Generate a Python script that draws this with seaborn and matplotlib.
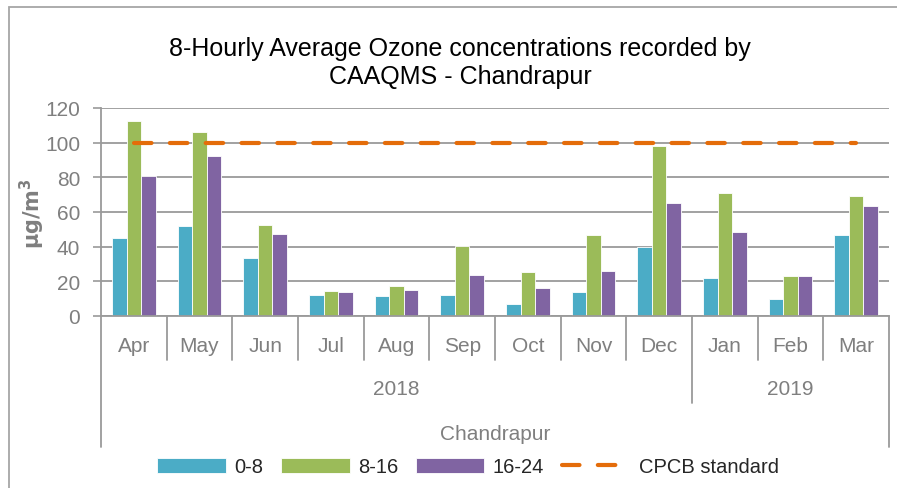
import numpy as np
import pandas as pd
import seaborn as sns
import matplotlib.pyplot as plt
from matplotlib.patches import Rectangle

months = ['Apr', 'May', 'Jun', 'Jul', 'Aug', 'Sep', 'Oct', 'Nov', 'Dec', 'Jan', 'Feb', 'Mar']
year_labels = ['2018', '2019']
year_spans = [(0, 9), (9, 12)]
station = 'Chandrapur'
h0_8 = [45.0, 51.7, 33.5, 12.1, 11.7, 12.2, 6.9, 13.7, 39.6, 22.1, 9.8, 46.6]
h8_16 = [112.3, 106.0, 52.7, 14.4, 17.3, 40.6, 25.4, 46.7, 97.9, 71.2, 23.1, 69.2]
h16_24 = [80.6, 92.3, 47.3, 13.7, 14.8, 23.7, 16.0, 26.0, 65.0, 48.3, 23.1, 63.5]
periods = ['0-8', '8-16', '16-24']
cpcb_std = 100

sns.set_theme(style='white')
plt.rcParams['font.family'] = ['Liberation Sans', 'DejaVu Sans']

df = pd.DataFrame({
    'month': months * 3,
    'period': [p for p in periods for _ in months],
    'value': h0_8 + h8_16 + h16_24,
})

grey = '#7f7f7f'
line_grey = '#9a9a9a'
W, H = 897, 489
fig = plt.figure(figsize=(W / 100, H / 100), dpi=100)
ax = fig.add_axes([101 / W, 1 - 317 / H, 788 / W, 208 / H])

sns.barplot(data=df, x='month', y='value', hue='period', order=months, hue_order=periods,
            palette=['#4bacc6', '#9bbb59', '#8064a2'], width=0.66, saturation=1,
            edgecolor='white', linewidth=0.6, ax=ax)
ax.plot([0, len(months) - 1], [cpcb_std, cpcb_std], color='#e46c0a', lw=3,
        dashes=(4.2, 4.4), dash_capstyle='round', label='CPCB standard')

ax.set_ylim(0, 120)
ax.set_xlim(-0.5, len(months) - 0.5)
ax.set_yticks(range(0, 121, 20))
ax.yaxis.grid(True, color=line_grey, lw=1.3)
ax.set_axisbelow(True)
ax.tick_params(axis='y', left=True, length=6, width=1.2, color=line_grey,
               labelsize=15, labelcolor=grey, pad=9)
ax.tick_params(axis='x', bottom=False, labelbottom=False)
ax.set_xlabel('')
ax.set_ylabel('')
for s in ['top', 'right']:
    ax.spines[s].set_visible(False)
for s in ['left', 'bottom']:
    ax.spines[s].set_color(line_grey)
    ax.spines[s].set_linewidth(1.3)

# multi-level category axis
tr = ax.get_xaxis_transform()
y_month, y_year, y_stat = -44 / 208, -87 / 208, -131 / 208
for k in range(len(months) + 1):
    bottom = y_month
    if any(k in sp for sp in year_spans):
        bottom = y_year
    if k in (0, len(months)):
        bottom = y_stat
    ax.plot([k - 0.5, k - 0.5], [0, bottom], transform=tr, clip_on=False,
            color=line_grey, lw=1.3)
for i, m in enumerate(months):
    ax.text(i, -30 / 208, m, transform=tr, ha='center', va='center', fontsize=15, color=grey)
for lab, (a, b) in zip(year_labels, year_spans):
    ax.text((a + b - 1) / 2, -73 / 208, lab, transform=tr, ha='center', va='center',
            fontsize=15, color=grey)
ax.text((len(months) - 1) / 2, -118 / 208, station, transform=tr, ha='center', va='center',
        fontsize=15, color=grey)

handles, labels = ax.get_legend_handles_labels()
ax.legend(handles, labels, loc='center', bbox_to_anchor=(468 / W, 1 - 468 / H),
          bbox_transform=fig.transFigure, ncol=4, frameon=False, fontsize=14.5,
          handlelength=3.4, handleheight=0.7, handletextpad=0.4, columnspacing=0.9)

fig.text(460 / W, 1 - 63 / H, '8-Hourly Average Ozone concentrations recorded by\nCAAQMS - Chandrapur',
         ha='center', va='center', fontsize=18, color='black', linespacing=1.25)
fig.text(32 / W, 1 - 214 / H, r'$\mathbf{\mu g/m^3}$', rotation=90, ha='center', va='center',
         fontsize=15, color=grey, fontweight='bold')

fig.add_artist(Rectangle((9 / W, -0.1), 1.2, 1.1 - 8 / H, transform=fig.transFigure,
                         fill=False, edgecolor='#a6a6a6', lw=1.3))

fig.savefig('out.png', dpi=100)
